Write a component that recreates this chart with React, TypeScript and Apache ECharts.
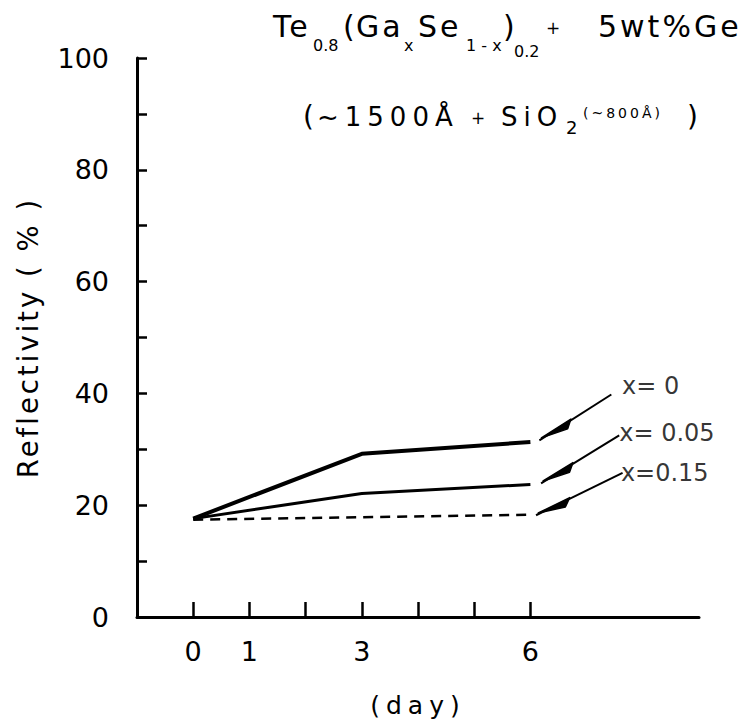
import React, { useEffect, useRef } from "react";
import * as echarts from "echarts";

// ---- data ----
const days = [0, 3, 6];
const reflX0 = [17.6, 29.2, 31.3];
const reflX005 = [17.6, 22.1, 23.7];
const daysX015 = [0, 6];
const reflX015 = [17.4, 18.3];

const xTickDays = [0, 1, 2, 3, 4, 5, 6];
const xLabelDays = [0, 1, 3, 6];
const yLabelValues = [0, 20, 40, 60, 80, 100];

const curveNames = ["x= 0", "x= 0.05", "x=0.15"];
const leaderTipDay = [6.16, 6.19, 6.1];
const leaderTipRefl = [31.6, 23.9, 18.2];
const leaderEndDay = [7.44, 7.58, 7.64];
const leaderEndRefl = [39.8, 32.5, 25.8];
const labelDay = [7.63, 7.58, 7.61];
const labelRefl = [41.4, 32.9, 25.8];

// font families (fallback names are used only as CSS hooks for letter spacing)
const FA = "DejaVu Sans";
const FB = "DejaVu Sans, Tahoma";
const FC = "DejaVu Sans, Verdana";

function txt(text: string, x: number, y: number, size: number, family: string) {
  return {
    type: "text",
    silent: true,
    style: {
      text,
      x,
      y,
      fontSize: size,
      fontFamily: family,
      fill: "#000",
      align: "left",
      verticalAlign: "middle",
      textAlign: "left",
      textVerticalAlign: "middle",
    },
  };
}

export default function App() {
  const ref = useRef<HTMLDivElement>(null);
  useEffect(() => {
    if (!ref.current) return;
    const chart = echarts.init(ref.current, null, { renderer: "svg" });
    const black = "#000";
    const option: any = {
      animation: false,
      backgroundColor: "#fff",
      grid: { left: 137, top: 58, width: 562, height: 563, containLabel: false },
      xAxis: {
        type: "value",
        min: -1,
        max: 9,
        interval: 1,
        name: "(day)",
        nameLocation: "middle",
        nameGap: 76,
        nameTextStyle: { fontSize: 25, fontFamily: FC, color: black },
        axisLine: { show: true, onZero: false, lineStyle: { color: black, width: 3 } },
        axisTick: {
          show: true,
          inside: true,
          length: 15,
          customValues: xTickDays,
          lineStyle: { color: black, width: 2.5 },
        },
        axisLabel: {
          customValues: xLabelDays,
          margin: 21,
          fontSize: 27,
          fontFamily: FA,
          color: black,
        },
        splitLine: { show: false },
      },
      yAxis: {
        type: "value",
        min: 0,
        max: 100,
        interval: 10,
        name: "Reflectivity ( % )",
        nameLocation: "middle",
        nameGap: 95,
        nameRotate: 90,
        nameTextStyle: { fontSize: 27.5, fontFamily: FB, color: black },
        axisLine: { show: true, onZero: false, lineStyle: { color: black, width: 3 } },
        axisTick: { show: true, inside: true, length: 10, lineStyle: { color: black, width: 2.5 } },
        axisLabel: {
          customValues: yLabelValues,
          margin: 28,
          fontSize: 27,
          fontFamily: FA,
          color: black,
        },
        splitLine: { show: false },
      },
      series: [
        {
          type: "line",
          name: curveNames[0],
          data: days.map((d, i) => [d, reflX0[i]]),
          showSymbol: false,
          symbol: "none",
          lineStyle: { color: black, width: 4 },
        },
        {
          type: "line",
          name: curveNames[1],
          data: days.map((d, i) => [d, reflX005[i]]),
          showSymbol: false,
          symbol: "none",
          lineStyle: { color: black, width: 3 },
        },
        {
          type: "line",
          name: curveNames[2],
          data: daysX015.map((d, i) => [d, reflX015[i]]),
          showSymbol: false,
          symbol: "none",
          lineStyle: { color: black, width: 2.5, type: [10, 7] },
        },
        {
          type: "custom",
          data: curveNames.map((n, i) => [leaderTipDay[i], leaderTipRefl[i], leaderEndDay[i], leaderEndRefl[i]]),
          renderItem: (params: any, api: any) => {
            const p0 = api.coord([api.value(0), api.value(1)]);
            const p1 = api.coord([api.value(2), api.value(3)]);
            const dx = p1[0] - p0[0];
            const dy = p1[1] - p0[1];
            const L = Math.hypot(dx, dy) || 1;
            const ux = dx / L, uy = dy / L;
            const nx = -uy, ny = ux;
            const a = [p0[0] + ux * 3 - nx * 1, p0[1] + uy * 3 - ny * 1];
            const b1 = [p0[0] + ux * 38 - nx * 1, p0[1] + uy * 38 - ny * 1];
            const b2 = [p0[0] + ux * 30 + nx * 5.5, p0[1] + uy * 30 + ny * 5.5];
            return {
              type: "group",
              children: [
                {
                  type: "line",
                  shape: { x1: p0[0], y1: p0[1], x2: p1[0], y2: p1[1] },
                  style: { stroke: black, lineWidth: 2 },
                },
                {
                  type: "polygon",
                  shape: { points: [a, b1, b2] },
                  style: { fill: black, stroke: black, lineWidth: 1.5, lineJoin: "round" },
                },
              ],
            };
          },
        },
        {
          type: "scatter",
          symbolSize: 0,
          data: curveNames.map((n, i) => ({ name: n, value: [labelDay[i], labelRefl[i]] })),
          label: {
            show: true,
            position: "right",
            distance: 0,
            formatter: "{b}",
            fontSize: 24,
            fontFamily: FA,
            color: black,
          },
        },
      ],
      graphic: [
        // title line 1: Te0.8(GaxSe1-x)0.2 + 5wt%Ge
        txt("Te", 273, 26, 30, FB),
        txt("0.8", 313, 45, 16, FA),
        txt("(", 343, 26, 30, FA),
        txt("Ga", 356, 26, 30, FB),
        txt("x", 404, 45, 16, FA),
        txt("Se", 418, 26, 30, FB),
        txt("1 - x", 466, 45, 16, FA),
        txt(")", 503, 26, 30, FA),
        txt("0.2", 514, 51, 16, FA),
        txt("+", 546, 28, 17, FA),
        txt("5wt%Ge", 598, 26, 30, FB),
        // title line 2: ( ~1500Å + SiO2(~800Å) )
        txt("(", 303, 116, 28, FA),
        txt("~1500Å", 317, 117, 26, FC),
        txt("+", 471, 118, 17, FA),
        txt("SiO", 501, 117, 26, FC),
        txt("2", 566, 127, 18, FA),
        txt("(~800Å)", 583, 113, 14, FB),
        txt(")", 687, 116, 28, FA),
      ],
    };
    chart.setOption(option);
    return () => chart.dispose();
  }, []);
  return (
    <div style={{ position: "absolute", left: 0, top: 0, width: 745, height: 723, background: "#fff" }}>
      <style>{`
        #refchart text[style*="Tahoma"] { letter-spacing: 3px; }
        #refchart text[style*="Verdana"] { letter-spacing: 6px; }
      `}</style>
      <div id="refchart" ref={ref} style={{ width: 745, height: 723 }} />
    </div>
  );
}
